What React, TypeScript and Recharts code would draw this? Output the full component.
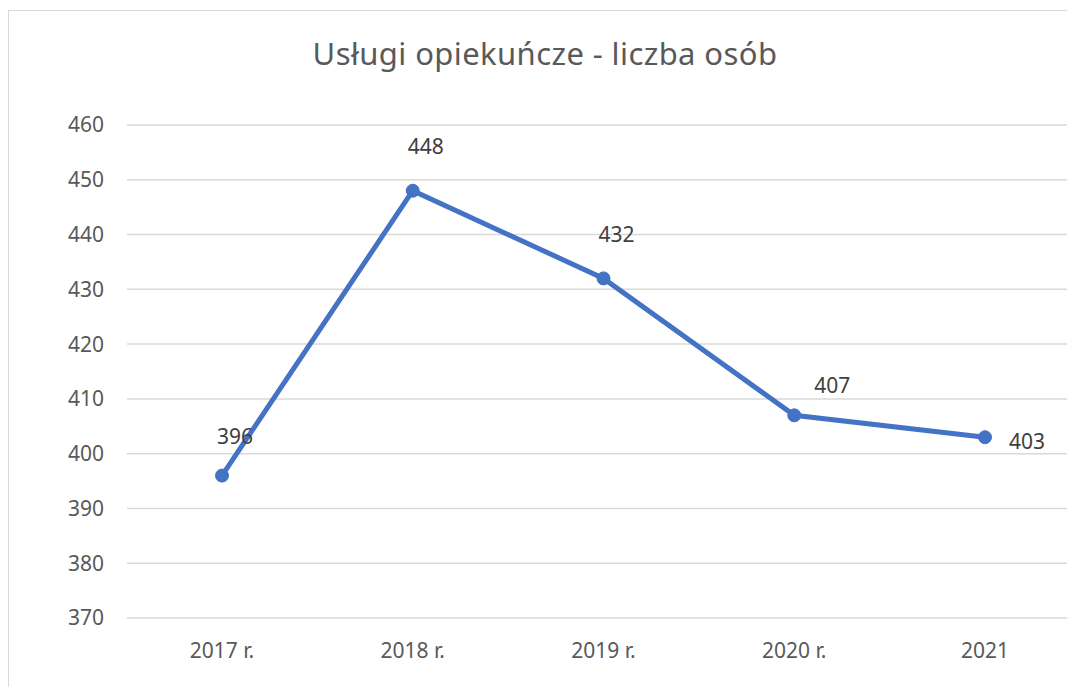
import React from "react";
import {
  LineChart,
  Line,
  XAxis,
  YAxis,
  CartesianGrid,
  LabelList,
} from "recharts";

// values
const years = ["2017 r.", "2018 r.", "2019 r.", "2020 r.", "2021"];
const persons = [396, 448, 432, 407, 403];
const yTicks = [370, 380, 390, 400, 410, 420, 430, 440, 450, 460];

const chartData = years.map((year, i) => ({ year, value: persons[i] }));

// Excel placed the labels a little off the points, nudge each one
const labelShift = [
  { dx: 13, dy: -40 },
  { dx: 13, dy: -45 },
  { dx: 13, dy: -44 },
  { dx: 38, dy: -30 },
  { dx: 42, dy: 4 },
];

const font = "'Noto Sans', 'Open Sans', sans-serif";

const PointLabel = (props: any) => {
  const { x, y, value, index } = props;
  const s = labelShift[index] || { dx: 0, dy: -20 };
  return (
    <text
      x={x + s.dx}
      y={y + s.dy}
      textAnchor="middle"
      dominantBaseline="central"
      fill="#404040"
      fontSize={21}
      fontFamily={font}
    >
      {value}
    </text>
  );
};

const App: React.FC = () => {
  return (
    <div
      style={{
        position: "fixed",
        left: 0,
        top: 0,
        width: 1067,
        height: 687,
        overflow: "hidden",
        background: "#fff",
        fontFamily: font,
      }}
    >
      {/* chart frame, cut off on the right and bottom like the screenshot */}
      <div
        style={{
          position: "absolute",
          left: 8,
          top: 10,
          width: 1100,
          height: 720,
          border: "1.5px solid #d9d9d9",
          boxSizing: "border-box",
        }}
      />
      <div
        style={{
          position: "absolute",
          left: 0,
          top: 32,
          width: 1090,
          textAlign: "center",
          fontSize: 31,
          color: "#595959",
          letterSpacing: 0.4,
        }}
      >
        Usługi opiekuńcze - liczba osób
      </div>
      <div style={{ position: "absolute", left: 0, top: 0 }}>
        <LineChart
          width={1100}
          height={700}
          data={chartData}
          margin={{ top: 125, right: 20, bottom: 22, left: 0 }}
        >
          <CartesianGrid
            vertical={false}
            stroke="#d9d9d9"
            strokeWidth={1.5}
          />
          <XAxis
            dataKey="year"
            height={60}
            padding={{ left: 95, right: 95 }}
            axisLine={false}
            tickLine={false}
            tickSize={0}
            tickMargin={25}
            interval={0}
            tick={{ fill: "#595959", fontSize: 21, fontFamily: font }}
          />
          <YAxis
            width={127}
            domain={[370, 460]}
            ticks={yTicks}
            interval={0}
            axisLine={false}
            tickLine={false}
            tickSize={0}
            tickMargin={23}
            tick={{ fill: "#595959", fontSize: 21, fontFamily: font }}
          />
          <Line
            type="linear"
            dataKey="value"
            stroke="#4472C4"
            strokeWidth={5}
            dot={{ r: 6.5, fill: "#4472C4", stroke: "#4472C4", strokeWidth: 1 }}
            isAnimationActive={false}
          >
            <LabelList dataKey="value" content={<PointLabel />} />
          </Line>
        </LineChart>
      </div>
    </div>
  );
};

export default App;
